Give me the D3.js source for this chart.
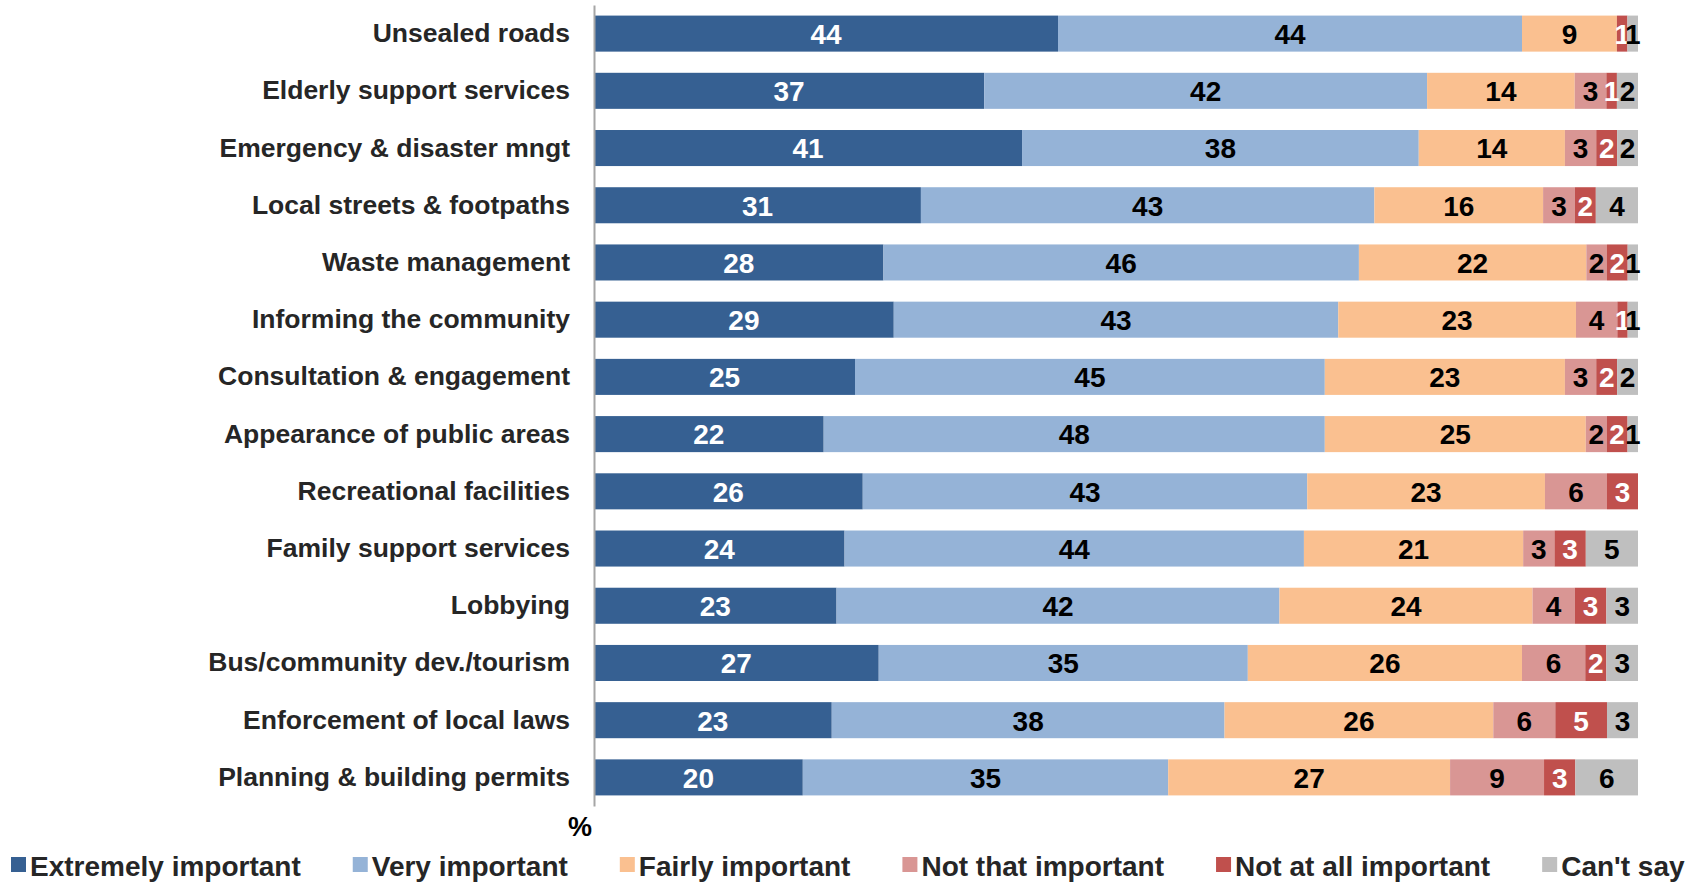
<!DOCTYPE html>
<html>
<head>
<meta charset="utf-8">
<script src="https://cdn.jsdelivr.net/npm/d3@7"></script>
<style>
  html, body { margin: 0; padding: 0; background: #fff; }
  svg { display: block; }
</style>
</head>
<body>
<svg id="chart" width="1699" height="882"></svg>
<script>
// Survey: importance ratings of council services (%)
const categories = [
  "Unsealed roads",
  "Elderly support services",
  "Emergency & disaster mngt",
  "Local streets & footpaths",
  "Waste management",
  "Informing the community",
  "Consultation & engagement",
  "Appearance of public areas",
  "Recreational facilities",
  "Family support services",
  "Lobbying",
  "Bus/community dev./tourism",
  "Enforcement of local laws",
  "Planning & building permits"
];

const seriesNames = [
  "Extremely important",
  "Very important",
  "Fairly important",
  "Not that important",
  "Not at all important",
  "Can't say"
];

const extremelyImportant = [44, 37, 41, 31, 28, 29, 25, 22, 26, 24, 23, 27, 23, 20];
const veryImportant      = [44, 42, 38, 43, 46, 43, 45, 48, 43, 44, 42, 35, 38, 35];
const fairlyImportant    = [ 9, 14, 14, 16, 22, 23, 23, 25, 23, 21, 24, 26, 26, 27];
const notThatImportant   = [ 0,  3,  3,  3,  2,  4,  3,  2,  6,  3,  4,  6,  6,  9];
const notAtAllImportant  = [ 1,  1,  2,  2,  2,  1,  2,  2,  3,  3,  3,  2,  5,  3];
const cantSay            = [ 1,  2,  2,  4,  1,  1,  2,  1,  0,  5,  3,  3,  3,  6];

const seriesColors = ["#366092", "#95B3D7", "#FAC090", "#D99694", "#C0504D", "#BFBFBF"];
const labelColors  = ["#ffffff", "#000000", "#000000", "#000000", "#ffffff", "#000000"];

const seriesValues = [extremelyImportant, veryImportant, fairlyImportant,
                      notThatImportant, notAtAllImportant, cantSay];

// Row table for d3.stack
const rows = categories.map((c, i) => {
  const r = { category: c };
  seriesNames.forEach((s, k) => { r[s] = seriesValues[k][i]; });
  return r;
});

const svg = d3.select("#chart");
const FONT = "'Liberation Sans', Arial, Helvetica, sans-serif";

const x = d3.scaleLinear().domain([0, 1]).range([594, 1638]);
const y = d3.scaleBand().domain(categories).range([5, 806])
  .paddingInner(0.37).paddingOuter(0.185);

// 100% stacked bars: each row expands to its own total
const stacked = d3.stack().keys(seriesNames).offset(d3.stackOffsetExpand)(rows);

// Narrow face for the segment labels; fall back to squeezing the regular face
const probe = svg.append("text").attr("font-size", 28).attr("font-weight", "bold")
  .style("font-family", "'Liberation Sans Narrow', 'Arial Narrow'").text("0000000000");
const narrowW = probe.node().getComputedTextLength();
probe.style("font-family", FONT);
const regularW = probe.node().getComputedTextLength();
probe.remove();
const haveNarrow = narrowW / regularW < 0.9;
const labelFamily = haveNarrow ? "'Liberation Sans Narrow', 'Arial Narrow', sans-serif" : FONT;
const squeeze = haveNarrow ? 1 : 0.82;

const layers = svg.append("g").selectAll("g")
  .data(stacked)
  .join("g")
  .attr("fill", (d, k) => seriesColors[k]);

layers.selectAll("rect")
  .data(d => d.filter(p => p.data[d.key] > 0))
  .join("rect")
  .attr("x", p => x(p[0]))
  .attr("y", p => y(p.data.category))
  .attr("width", p => x(p[1]) - x(p[0]))
  .attr("height", y.bandwidth());

// Segment value labels
stacked.forEach((layer, k) => {
  svg.append("g").selectAll("text")
    .data(layer.filter(p => p.data[layer.key] > 0))
    .join("text")
    .attr("transform", p => `translate(${(x(p[0]) + x(p[1])) / 2},${y(p.data.category) + y.bandwidth() / 2}) scale(${squeeze},1)`)
    .attr("text-anchor", "middle")
    .attr("dominant-baseline", "central")
    .attr("dy", "0.03em")
    .attr("fill", labelColors[k])
    .attr("font-size", 28)
    .attr("font-weight", "bold")
    .style("font-family", labelFamily)
    .text(p => p.data[layer.key]);
});

// Category axis
const yAxis = svg.append("g")
  .attr("transform", `translate(${x(0)},0)`)
  .call(d3.axisLeft(y).tickSize(0).tickPadding(24));
yAxis.select(".domain").attr("stroke", "#A6A6A6").attr("stroke-width", 2);
yAxis.selectAll(".tick text")
  .attr("fill", "#262626")
  .attr("font-size", 26.5)
  .attr("font-weight", "bold")
  .style("font-family", FONT);

// Unit label
svg.append("text")
  .attr("x", 580).attr("y", 836)
  .attr("text-anchor", "middle")
  .attr("fill", "#000")
  .attr("font-size", 27)
  .attr("font-weight", "bold")
  .style("font-family", FONT)
  .text("%");

// Legend
const legend = svg.append("g");
let lx = 11;
seriesNames.forEach((name, k) => {
  legend.append("rect")
    .attr("x", lx).attr("y", 857).attr("width", 15).attr("height", 15)
    .attr("fill", seriesColors[k]);
  const t = legend.append("text")
    .attr("x", lx + 19).attr("y", 876)
    .attr("fill", "#262626")
    .attr("font-size", 28)
    .attr("font-weight", "bold")
    .style("font-family", FONT)
    .text(name);
  lx += 19 + t.node().getComputedTextLength() + 52;
});
</script>
</body>
</html>
